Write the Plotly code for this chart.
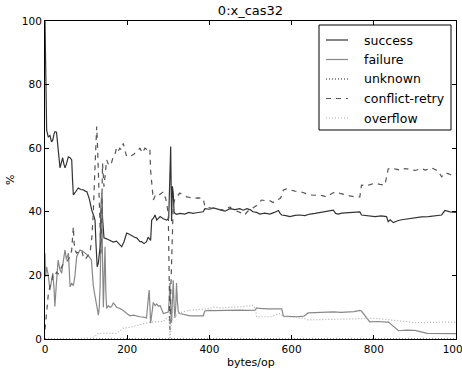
import plotly.graph_objects as go

# ---------------- data ----------------
success_x = [0, 2, 4, 8, 12, 16, 19, 22, 24, 28, 32, 36.5, 40, 43, 46, 48.7, 52, 56.8, 61, 65, 67, 69, 73, 77, 81, 87, 93, 98, 102, 108, 113.5, 118, 121.7, 124, 127, 130, 134, 136, 138, 140, 143.5, 150, 158, 166, 174, 180, 186.6, 192, 198.7, 204, 211, 218, 223, 231, 235, 241, 247, 251, 257, 259.6, 264, 267.6, 272, 280, 288, 296, 301, 303, 305.8, 308, 310, 312, 314, 316, 320, 328.5, 340, 350, 360, 369, 378, 385, 389, 400, 410, 418, 426, 438, 450, 462, 474, 482, 491, 500, 506, 515, 523, 535, 547, 558, 568, 572, 576, 586, 596, 608, 620, 632, 645, 657, 669, 685, 701.5, 707, 713.6, 722, 738, 752, 766, 770, 785, 803, 818, 831, 835, 840, 847.5, 858, 868, 884, 900, 916, 933, 949, 965, 973, 985.5, 1000]
success_y = [100, 80, 65.7, 63.5, 64, 62, 62.6, 64.5, 65.2, 65, 59, 53.8, 55.5, 57, 55, 53.8, 55, 57.3, 57, 56.3, 50, 45.3, 46, 47, 47.5, 47, 46.9, 46.5, 46.3, 44, 40.6, 39, 37.4, 30, 22.7, 24, 29, 40, 45.9, 38, 31.8, 31.5, 31.1, 30.5, 30.8, 30, 29, 30.5, 33.3, 33, 32.4, 32, 31.8, 30.6, 30.6, 30, 30.6, 32, 31, 37.4, 38, 39, 37.4, 38.5, 37.8, 37.4, 38, 45, 60.5, 37, 48, 45.9, 40, 39.5, 39.2, 39.5, 39.3, 39.8, 39.5, 39.7, 39.8, 40, 41, 40.8, 41.2, 41, 40.6, 40.2, 41, 40.7, 41, 40.5, 41, 40.6, 40, 39.8, 39.3, 39.6, 39.3, 39.8, 40.4, 39.5, 39, 38.8, 38.5, 38.9, 39, 38.8, 39.3, 39.5, 39.8, 40.2, 40.5, 39.5, 39.3, 39.6, 39.7, 39.9, 40, 39, 38.8, 38.5, 38.7, 38.5, 36.9, 37.5, 36.6, 37.2, 37.5, 37.8, 38.2, 38.4, 38.5, 38.7, 39, 40.4, 40, 39.8]

failure_x = [0, 1.5, 4, 8, 12, 16, 19, 22, 24, 28, 32, 36, 40.5, 44, 48.7, 52, 57, 61, 65, 69, 73, 77, 81, 85, 89, 93, 98, 102, 108, 113, 117.5, 121, 125.8, 130, 132, 134, 136, 138, 140, 142, 144, 146, 148, 150, 154, 158, 162, 166, 170, 174, 182.5, 190, 199, 207, 215, 223, 231, 240, 247, 251, 253.5, 257, 260, 263.5, 268, 272, 276, 280, 288, 295, 300, 302, 304, 306, 308, 310, 312, 314, 316, 318, 320, 322, 324.5, 328, 340, 353, 370, 385, 389, 400, 410, 426, 440, 450, 462, 474, 490, 511, 515, 523, 540, 560, 576, 580, 596, 612, 630, 640, 657, 669, 685, 701.5, 720, 738, 752, 766, 770, 790, 810, 831, 835, 860, 880, 896, 900, 930, 960, 1000]
failure_y = [27, 19.6, 22.7, 20, 15.4, 18, 20.7, 16, 10.2, 18, 24.8, 22, 20.7, 24, 28, 25, 27, 16.4, 17.5, 16.8, 20, 25.9, 27, 28, 27.8, 27.5, 27, 26.5, 25.8, 24.8, 16.8, 14, 10.2, 7.5, 10, 16.3, 30, 45.8, 25, 10, 20, 29, 15, 9.6, 10.5, 10, 10.2, 11.3, 10.8, 10, 9.6, 9, 8, 7.3, 7.5, 7.2, 7, 6.9, 6.6, 12.3, 15.4, 5, 9, 11.5, 10.5, 11, 10.3, 10.5, 8, 8.3, 8.5, 12, 17.6, 10, 5, 12, 18.5, 11, 6.6, 10, 17.6, 12, 8.5, 8, 7.6, 7.3, 7.3, 7.3, 8.8, 9, 8.9, 9, 8.9, 9.1, 9, 9.1, 9, 9.1, 9.8, 9.6, 9.5, 9.6, 9.5, 7.2, 7.1, 7, 7.2, 8.2, 8.3, 8.4, 8.4, 8.5, 8.4, 8.5, 8.6, 9, 8.8, 5.4, 5.5, 5.3, 5.4, 2.6, 2.8, 2.7, 2.7, 1.8, 1.8, 1.7, 1.7]

unknown_x = [0, 250, 500, 750, 1000]
unknown_y = [0, 0, 0, 0, 0]

conflict_x = [0, 2, 4, 8, 12, 16, 19, 24, 28, 32, 38, 44.5, 50, 57, 61, 65, 67, 69, 71, 73, 77, 83, 89, 93, 97.5, 103, 109.5, 114, 117.5, 121.7, 124, 125.8, 128, 130, 133, 136, 138, 140, 143.5, 147, 150, 154, 158, 162, 166, 170, 174, 178, 182, 186, 190.5, 195, 199, 205, 211, 217, 223, 231, 237, 243, 249, 255, 257, 259.6, 263.5, 268, 272, 280, 288, 294, 300, 302, 304, 306, 308, 310, 312, 316, 320, 328, 336, 345, 353, 361, 373, 385, 389, 398, 410, 422, 434, 442, 450, 456, 462, 474, 480, 486, 492, 499, 507, 515, 521, 527, 537, 547, 555, 563, 572, 576, 580, 588, 596, 608, 620, 632, 645, 657, 669, 677, 685, 695, 705.6, 718, 730, 742, 754, 766, 770, 778, 787, 795, 803, 815, 827, 835, 843, 851, 860, 868, 876, 884, 900, 916.5, 925, 933, 941, 949, 957, 965, 973, 981, 990, 1000]
conflict_y = [3, 6, 10, 14, 16.5, 18, 20, 19.6, 21, 20.5, 22, 23.8, 24, 25, 26, 28, 32, 35.3, 30, 28, 27, 27.5, 28, 26, 25, 26, 27, 32, 39.6, 54.2, 62, 66.8, 60, 53, 40, 27, 40, 55.2, 47.9, 54, 56.3, 55, 56, 55.5, 57.3, 58, 60, 59, 60, 59.5, 61.5, 59, 57.3, 57.5, 57.7, 58.2, 59, 60, 58.5, 60, 59.5, 60, 53, 48, 43.7, 45, 44.7, 45.5, 46.3, 44, 39.5, 20, 2.8, 15, 27, 36, 42, 44, 44.7, 45.9, 45.3, 44.7, 44.5, 44.2, 44.4, 44.2, 41.6, 41.3, 41, 40.8, 40.6, 41, 41.5, 40.8, 40.5, 40, 39.5, 39, 40, 40.7, 41.3, 42, 43, 43.7, 43.5, 43.5, 42.9, 43.5, 44.2, 45, 46.9, 47.2, 46.9, 46.5, 46.4, 45.8, 45.3, 45.2, 45.3, 45, 44.7, 45.5, 46.3, 45.8, 45.3, 45, 44.7, 44.7, 48.4, 48.2, 48.4, 48.8, 49, 48.6, 48.4, 53.5, 53.8, 53.5, 53.2, 53, 53.6, 53.4, 53, 53.6, 53.1, 53.4, 53.8, 53.3, 52.8, 51, 52.2, 52, 51.5, 52]

overflow_x = [0, 100, 109.5, 121.7, 130, 150, 174, 182, 190.5, 207, 223, 231, 247, 255, 270, 288, 300, 302, 304, 306, 308, 315, 328, 340, 353, 370, 385, 398, 410, 422, 434, 450, 462, 474, 490, 499, 507, 512, 515, 530, 547, 560, 572, 576, 580, 610, 630, 640, 669, 690, 705.6, 738, 770, 790, 803, 820, 835, 860, 880, 900, 930, 949, 975, 1000]
overflow_y = [0, 0, 0.2, 0.8, 1.8, 1.8, 1.8, 2.5, 3.4, 3.7, 4.2, 4.4, 5, 5.3, 5.4, 5.5, 7, 5, 0, 3, 6, 7, 8.3, 8.7, 9.1, 9.2, 9.4, 9.6, 10, 9.8, 9.8, 10, 10, 10.1, 10.3, 10.5, 10.6, 9.5, 7, 7, 7, 7.5, 8, 7.5, 7, 6.8, 6.5, 6, 6, 6, 6.2, 6.3, 6.5, 6.5, 6.5, 6.3, 6, 5.7, 5.5, 5.1, 5.2, 5.3, 5.3, 5.3]

x_ticks = [0, 200, 400, 600, 800, 1000]
y_ticks = [0, 20, 40, 60, 80, 100]

FONT = "DejaVu Sans"
W, H = 462, 371
ML, MR, MT, MB = 45, 6, 21, 32
PW, PH = W - ML - MR, H - MT - MB


def px_x(px):
    return (px - ML) / PW


def px_y(py):
    return (H - MB - py) / PH


fig = go.Figure()
series = [
    ("success", success_x, success_y, "#333333", "solid"),
    ("failure", failure_x, failure_y, "#888888", "solid"),
    ("unknown", unknown_x, unknown_y, "#222222", "1px,2px"),
    ("conflict-retry", conflict_x, conflict_y, "#555555", "5px,5px"),
    ("overflow", overflow_x, overflow_y, "#b0b0b0", "1px,2px"),
]
for name, xs, ys, col, dash in series:
    fig.add_trace(go.Scatter(x=xs, y=ys, mode="lines", name=name, showlegend=False,
                             line=dict(color=col, width=1.2, dash=dash)))

# manual legend (matplotlib-style box)
shapes = [dict(type="rect", xref="paper", yref="paper",
               x0=px_x(319), x1=px_x(451), y0=px_y(130), y1=px_y(25),
               line=dict(color="black", width=1), fillcolor="white", layer="above")]
annotations = []
for i, (name, xs, ys, col, dash) in enumerate(series):
    cy = 40 + i * 19.5
    shapes.append(dict(type="line", xref="paper", yref="paper",
                       x0=px_x(326), x1=px_x(348), y0=px_y(cy), y1=px_y(cy),
                       line=dict(color=col, width=1.2, dash=dash), layer="above"))
    annotations.append(dict(text=name, x=px_x(362), xref="paper", y=px_y(cy), yref="paper",
                            xanchor="left", yanchor="middle", showarrow=False,
                            font=dict(family=FONT, size=12.5, color="black")))

axis_common = dict(showgrid=False, zeroline=False, showline=True, linecolor="black",
                   linewidth=1, mirror="allticks", ticks="inside", ticklen=4,
                   tickcolor="black", tickwidth=1, ticklabeloverflow="allow",
                   automargin=False,
                   tickfont=dict(family=FONT, size=10.5, color="black"))

annotations += [
    dict(text="bytes/op", x=0.5, xref="paper", y=-23 / PH, yref="paper",
         xanchor="center", yanchor="middle", showarrow=False,
         font=dict(family=FONT, size=11, color="black")),
    dict(text="%", x=-35 / PW, xref="paper", y=0.5, yref="paper",
         xanchor="center", yanchor="middle", showarrow=False, textangle=-90,
         font=dict(family=FONT, size=11, color="black")),
]

fig.update_layout(
    width=W, height=H,
    margin=dict(l=ML, r=MR, t=MT, b=MB, autoexpand=False),
    paper_bgcolor="white", plot_bgcolor="white",
    font=dict(family=FONT, color="black"),
    title=dict(text="0:x_cas32", x=0.5, xref="paper", xanchor="center",
               y=1 - 10 / H, yref="container", yanchor="middle",
               font=dict(family=FONT, size=13, color="black")),
    xaxis=dict(range=[0, 1000], tickvals=x_ticks, ticktext=[str(v) for v in x_ticks], **axis_common),
    yaxis=dict(range=[0, 100], tickvals=y_ticks, ticktext=[str(v) for v in y_ticks], **axis_common),
    showlegend=False,
    shapes=shapes,
    annotations=annotations,
)

fig.write_html("out.html")
